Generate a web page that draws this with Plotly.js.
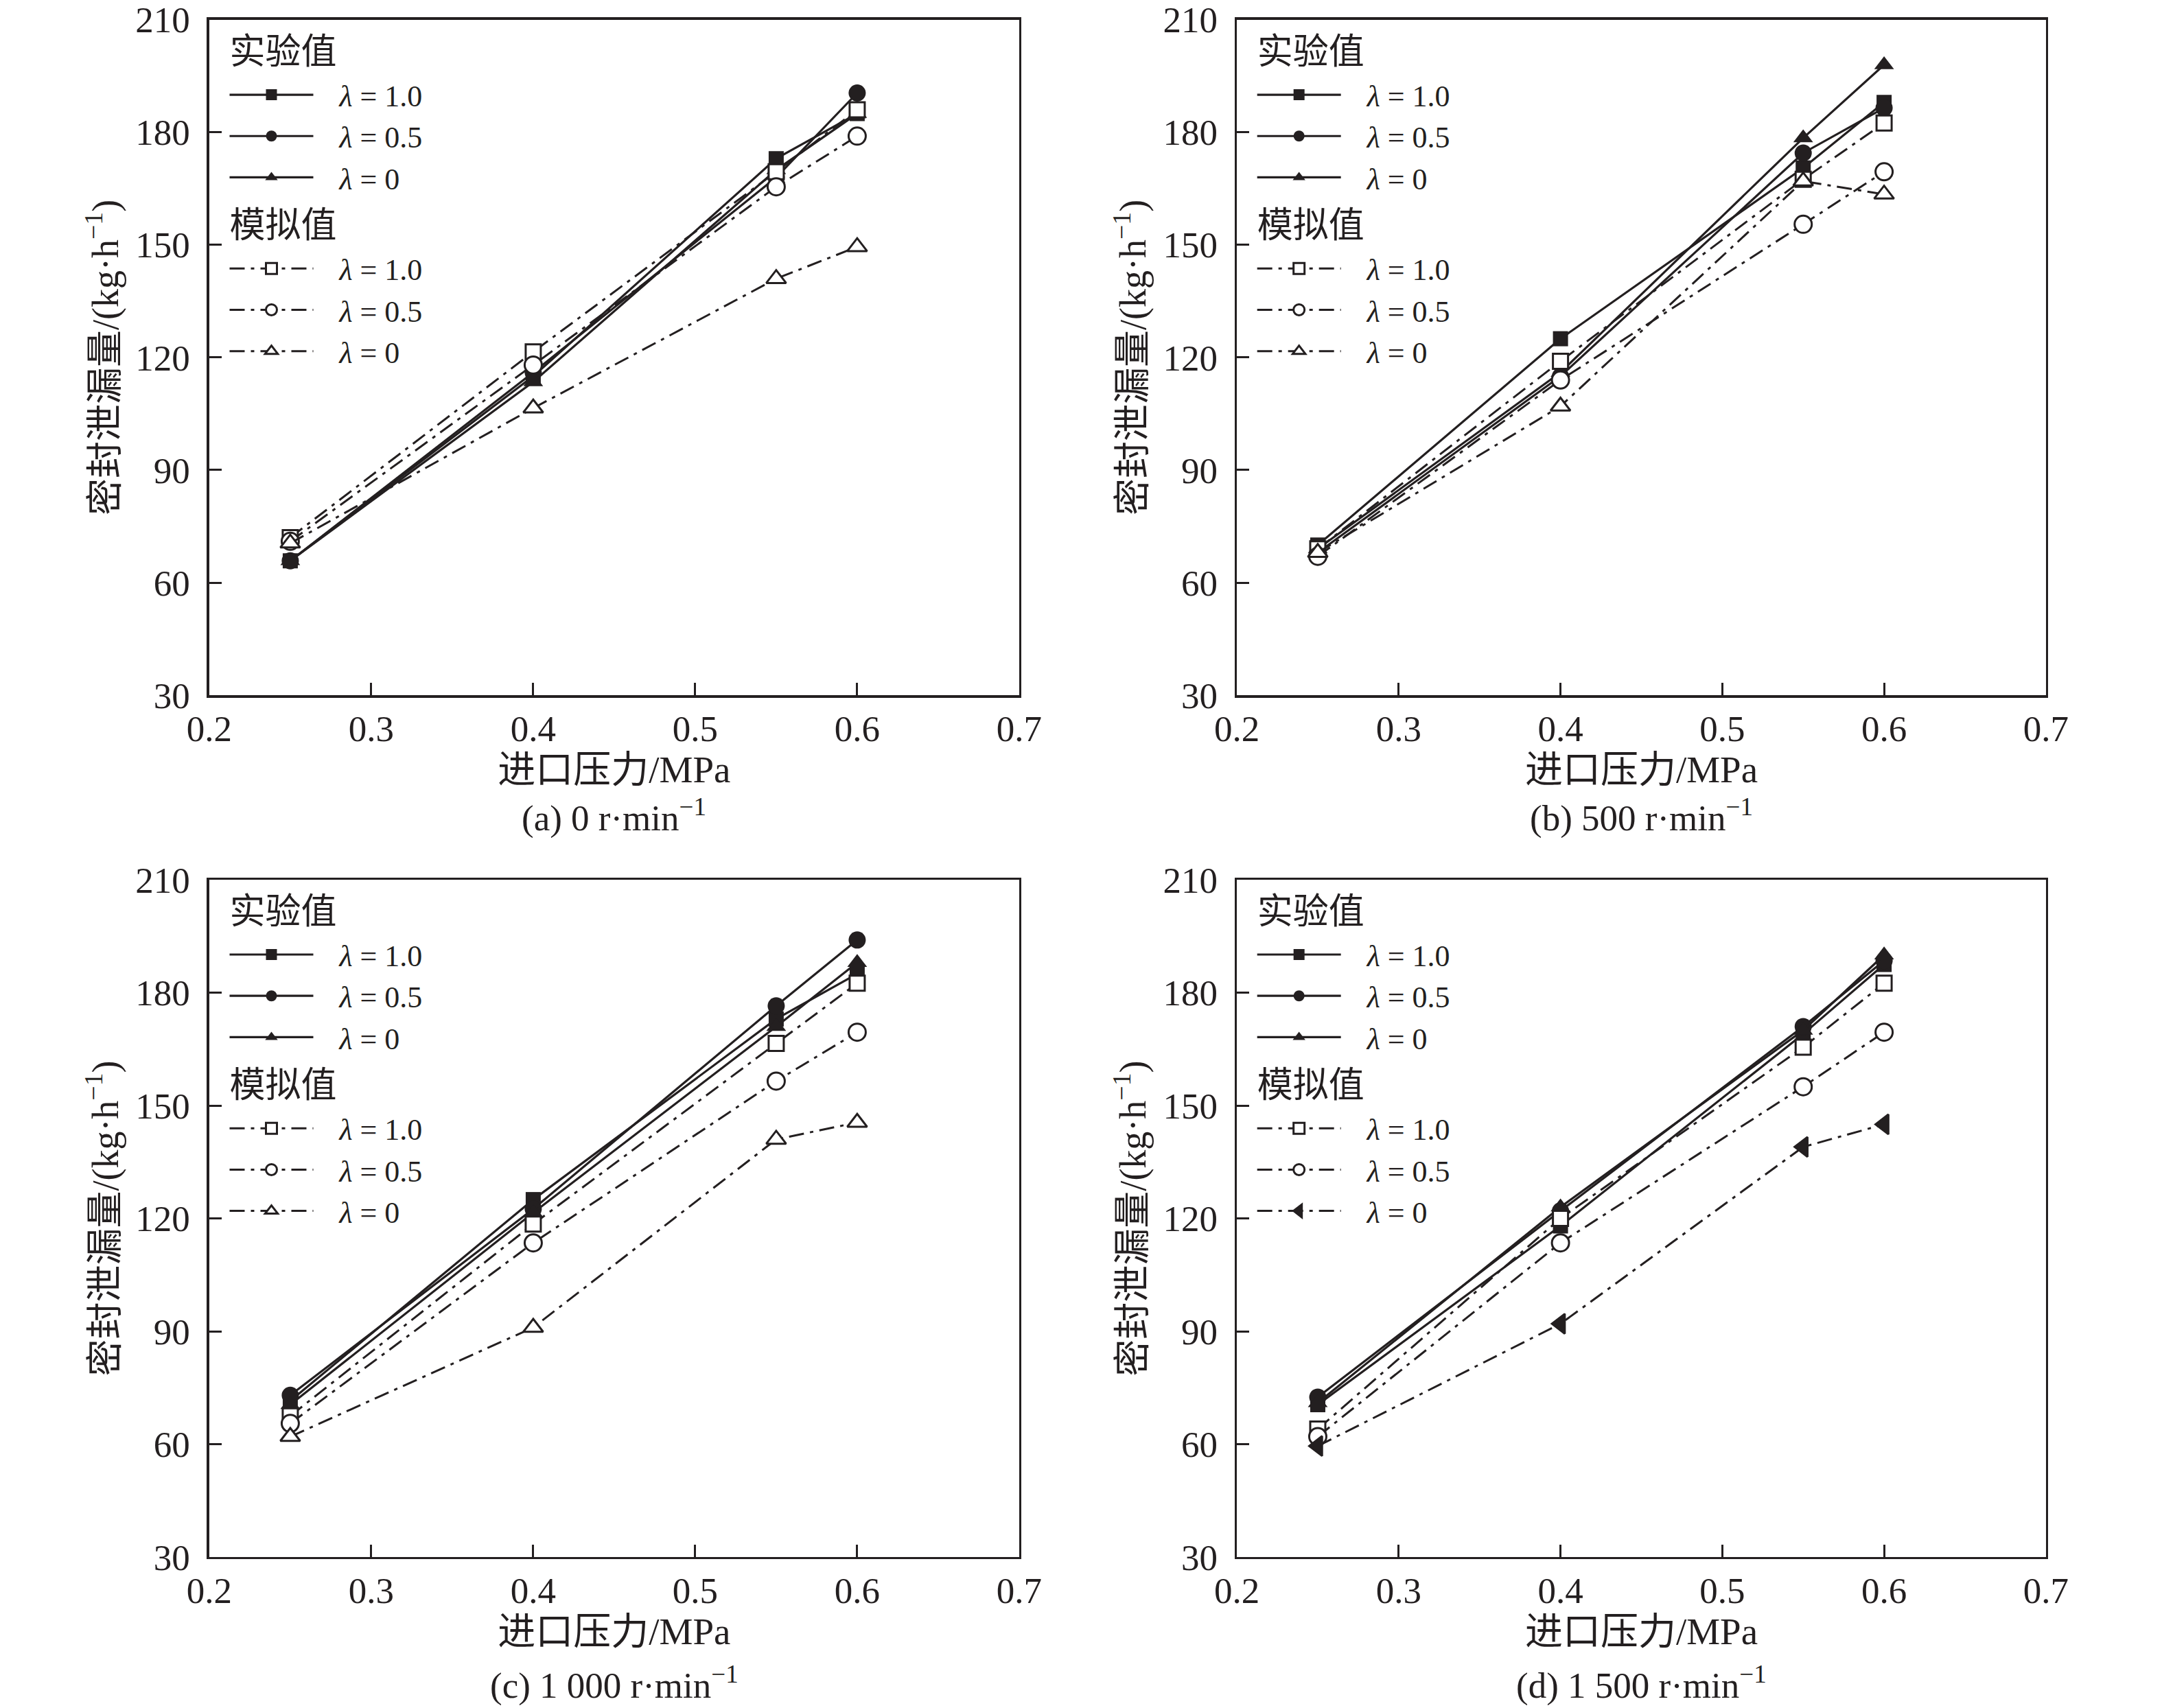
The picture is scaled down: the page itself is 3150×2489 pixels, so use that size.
<!DOCTYPE html>
<html>
<head>
<meta charset="utf-8">
<script src="https://cdn.plot.ly/plotly-3.0.1.min.js"></script>
<style>
html, body {margin: 0; padding: 0; background: #fff;}
#chart {width: 3150px; height: 2489px;}
</style>
</head>
<body>
<div id="chart"></div>
<script>
// inlet pressure / MPa
var pressure = [0.25, 0.4, 0.55, 0.6];

// (a) 0 r/min
var a_exp_10 = [65.8, 115, 173, 185];
var a_exp_05 = [65.8, 116, 168, 190.5];
var a_exp_00 = [65.8, 113.5, 170, 185];
var a_sim_10 = [72, 121.5, 169.5, 186];
var a_sim_05 = [71, 118, 165.5, 179];
var a_sim_00 = [70.5, 106.5, 141, 149.5];

// (b) 500 r/min
var b_exp_10 = [70, 125, 170.5, 188];
var b_exp_05 = [68, 115, 174.5, 186.5];
var b_exp_00 = [69, 116, 178.5, 198];
var b_sim_10 = [69, 119, 167.5, 182.5];
var b_sim_05 = [67, 114, 155.5, 169.5];
var b_sim_00 = [68, 107, 167, 163.5];

// (c) 1000 r/min
var c_exp_10 = [71.5, 125, 173, 185];
var c_exp_05 = [73, 122.5, 176.5, 194];
var c_exp_00 = [70.5, 121.5, 171, 188];
var c_sim_10 = [67.5, 118.5, 166.5, 182.5];
var c_sim_05 = [65.5, 113.5, 156.5, 169.5];
var c_sim_00 = [62, 91, 141, 145.5];

// (d) 1500 r/min
var d_exp_10 = [70.5, 118, 169, 187.5];
var d_exp_05 = [72.5, 122, 171, 188.5];
var d_exp_00 = [71, 123, 170, 190];
var d_sim_10 = [64, 120, 165.5, 182.5];
var d_sim_05 = [62, 113.5, 155, 169.5];
var d_sim_00 = [59.5, 92, 139, 145];

var gap = '\u00a0\u00a0\u00a0';
var lambdaNames = [gap + '<i>λ</i> = 1.0', gap + '<i>λ</i> = 0.5', gap + '<i>λ</i> = 0'];
var captions = ['(a) 0 r·min<sup>−1</sup>', '(b) 500 r·min<sup>−1</sup>',
                '(c) 1 000 r·min<sup>−1</sup>', '(d) 1 500 r·min<sup>−1</sup>'];
var xTicks = [0.2, 0.3, 0.4, 0.5, 0.6, 0.7];
var yTicks = [30, 60, 90, 120, 150, 180, 210];

var panels = [
    {exp: [a_exp_10, a_exp_05, a_exp_00], sim: [a_sim_10, a_sim_05, a_sim_00]},
    {exp: [b_exp_10, b_exp_05, b_exp_00], sim: [b_sim_10, b_sim_05, b_sim_00]},
    {exp: [c_exp_10, c_exp_05, c_exp_00], sim: [c_sim_10, c_sim_05, c_sim_00]},
    {exp: [d_exp_10, d_exp_05, d_exp_00], sim: [d_sim_10, d_sim_05, d_sim_00]}
];

var ink = '#231f20';
var serif = "'Liberation Serif', 'Times New Roman', 'Noto Sans CJK SC', serif";
var fs = 53;

var symbols = ['square', 'circle', 'triangle-up'];
var sizes = [22, 25, 25];

// plot-area boxes in paper fractions
var xDom = [[0.0968, 0.4714], [0.5721, 0.9463]];
var yDom = [[0.5930, 0.9884], [0.0884, 0.4849]];
var legTop = [0.9870, 0.4836];
var capY = [0.5225, 0.0145];

var data = [];
panels.forEach(function(p, k){
    var ax = k === 0 ? '' : String(k + 1);
    var leg = k === 0 ? 'legend' : 'legend' + (k + 1);
    for (var i = 0; i < 3; i++){
        var t = {
            x: pressure, y: p.exp[i], name: lambdaNames[i],
            type: 'scatter', mode: 'lines+markers',
            xaxis: 'x' + ax, yaxis: 'y' + ax, legend: leg,
            legendgroup: 'exp' + k,
            line: {color: ink, width: 3.2},
            marker: {symbol: symbols[i], size: sizes[i], color: ink}
        };
        if (i === 0) t.legendgrouptitle = {text: '实验值', font: {size: 52, family: serif, color: ink}};
        data.push(t);
    }
    for (var i = 0; i < 3; i++){
        var sym = symbols[i], fill = '#ffffff';
        if (k === 3 && i === 2){ sym = 'triangle-left'; fill = ink; }
        var t = {
            x: pressure, y: p.sim[i], name: lambdaNames[i],
            type: 'scatter', mode: 'lines+markers',
            xaxis: 'x' + ax, yaxis: 'y' + ax, legend: leg,
            legendgroup: 'sim' + k,
            line: {color: ink, width: 3, dash: '22px,9px,5px,9px'},
            marker: {symbol: sym, size: sizes[i], color: fill, line: {color: ink, width: 3}}
        };
        if (i === 0) t.legendgrouptitle = {text: '模拟值', font: {size: 52, family: serif, color: ink}};
        data.push(t);
    }
});

var layout = {
    width: 3150, height: 2489,
    margin: {l: 0, r: 0, t: 0, b: 0},
    paper_bgcolor: '#ffffff', plot_bgcolor: '#ffffff',
    font: {family: serif, size: fs, color: ink},
    showlegend: true,
    annotations: []
};

for (var k = 0; k < 4; k++){
    var ax = k === 0 ? '' : String(k + 1);
    var col = k % 2, row = Math.floor(k / 2);
    layout['xaxis' + ax] = {
        domain: xDom[col], anchor: 'y' + ax,
        range: [0.2, 0.7], tickvals: xTicks, tickformat: '.1f',
        ticks: 'inside', ticklen: 18, tickwidth: 3, tickcolor: ink,
        showline: true, linewidth: 3.5, linecolor: ink, mirror: true,
        showgrid: false, zeroline: false, ticklabelstandoff: 0,
        tickfont: {size: fs, family: serif, color: ink},
        title: {text: '进口压力/MPa', font: {size: 55, family: serif, color: ink}, standoff: 12}
    };
    layout['yaxis' + ax] = {
        domain: yDom[row], anchor: 'x' + ax,
        range: [30, 210], tickvals: yTicks,
        ticks: 'inside', ticklen: 18, tickwidth: 3, tickcolor: ink,
        showline: true, linewidth: 3.5, linecolor: ink, mirror: true,
        showgrid: false, zeroline: false, ticklabelstandoff: 14,
        tickfont: {size: fs, family: serif, color: ink},
        title: {text: '密封泄漏量/(kg·h<sup>−1</sup>)', font: {size: 54, family: serif, color: ink}, standoff: 8}
    };
    var legKey = k === 0 ? 'legend' : 'legend' + (k + 1);
    layout[legKey] = {
        x: xDom[col][0] + 0.0078, xanchor: 'left',
        y: legTop[row], yanchor: 'top',
        bgcolor: 'rgba(0,0,0,0)', borderwidth: 0,
        traceorder: 'grouped', tracegroupgap: 2,
        itemwidth: 122, itemsizing: 'trace',
        font: {size: 44, family: serif, color: ink}
    };
    layout.annotations.push({
        text: captions[k], xref: 'paper', yref: 'paper',
        x: (xDom[col][0] + xDom[col][1]) / 2, y: capY[row],
        xanchor: 'center', yanchor: 'middle', showarrow: false,
        font: {size: fs, family: serif, color: ink}
    });
}

Plotly.newPlot('chart', data, layout, {staticPlot: true});
</script>
</body>
</html>
